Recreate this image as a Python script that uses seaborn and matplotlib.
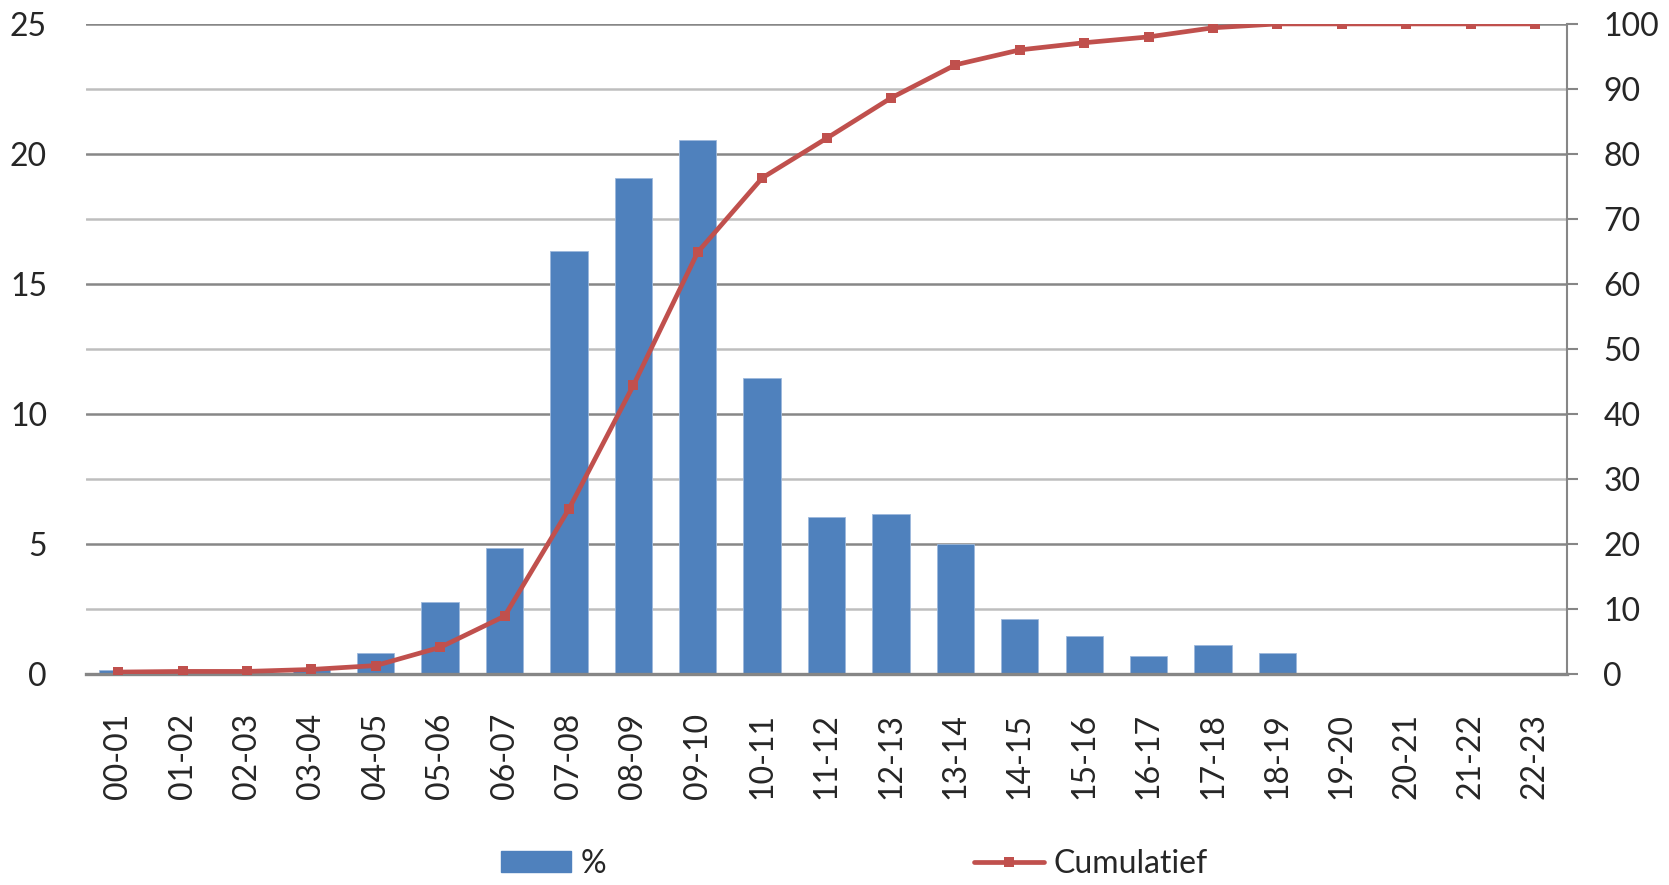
import numpy as np
import pandas as pd
import seaborn as sns
import matplotlib
matplotlib.use('Agg')
import matplotlib.pyplot as plt
from matplotlib.patches import Patch
from matplotlib.lines import Line2D

# hour slots
uren = ['00-01', '01-02', '02-03', '03-04', '04-05', '05-06', '06-07', '07-08',
        '08-09', '09-10', '10-11', '11-12', '12-13', '13-14', '14-15', '15-16',
        '16-17', '17-18', '18-19', '19-20', '20-21', '21-22', '22-23']
# share per hour (%)
procent = [0.15, 0.1, 0.0, 0.2, 0.8, 2.76, 4.85, 16.26, 19.09, 20.52, 11.39, 6.03,
           6.15, 5.0, 2.1, 1.45, 0.69, 1.12, 0.8, 0.0, 0.0, 0.0, 0.0]
# cumulative (%)
cumulatief = [0.3, 0.4, 0.4, 0.7, 1.3, 4.1, 8.9, 25.4, 44.4, 64.9, 76.3, 82.4,
              88.6, 93.7, 96.0, 97.1, 98.0, 99.4, 100, 100, 100, 100, 100]

df = pd.DataFrame({'uur': uren, 'pct': procent, 'cum': cumulatief})

sns.set_style('white')
plt.rcParams['font.family'] = ['Lato', 'DejaVu Sans']

blauw = '#4F81BD'
rood = '#C0504D'
fs = 23

fig = plt.figure(figsize=(16.69, 8.85), dpi=100)
ax = fig.add_axes([0.0515, 0.2384, 0.8875, 0.7346])

sns.barplot(data=df, x='uur', y='pct', color=blauw, saturation=1, width=0.58,
            ax=ax, edgecolor='#9DB9DC', linewidth=0.6)
ax.set_xlim(-0.5, len(uren) - 0.5)
ax.set_ylim(0, 25)
ax.set_yticks(np.arange(0, 26, 5))
ax.set_yticks(np.arange(2.5, 25, 5), minor=True)
ax.grid(True, which='major', axis='y', color='#878787', linewidth=1.8)
ax.grid(True, which='minor', axis='y', color='#BEBEBE', linewidth=1.8)
ax.set_axisbelow(True)
ax.tick_params(axis='y', which='both', length=0, labelsize=fs, pad=28)
ax.tick_params(axis='x', length=0, labelsize=fs, pad=28, labelrotation=90)
ax.set_xlabel('')
ax.set_ylabel('')
for s in ['left', 'top', 'right']:
    ax.spines[s].set_visible(False)
ax.spines['bottom'].set_color('#868686')
ax.spines['bottom'].set_linewidth(2.4)

ax2 = ax.twinx()
sns.lineplot(data=df, x='uur', y='cum', color=rood, linewidth=3.4, marker='s',
             markersize=7.5, markeredgewidth=0, sort=False, ax=ax2)
ax2.set_ylim(0, 100)
ax2.set_yticks(np.arange(0, 101, 10))
ax2.set_xlim(-0.5, len(uren) - 0.5)
ax2.set_ylabel('')
ax2.set_xlabel('')
ax2.tick_params(axis='y', length=8, width=1.5, color='#868686', labelsize=fs, pad=18)
for s in ['left', 'top', 'bottom']:
    ax2.spines[s].set_visible(False)
ax2.spines['right'].set_color('#868686')
ax2.spines['right'].set_linewidth(1.5)

handles = [Patch(facecolor=blauw, edgecolor=blauw),
           Line2D([0], [0], color=rood, linewidth=3.4, marker='s', markersize=7.5,
                  markeredgewidth=0)]
fig.legend(handles, ['%', 'Cumulatief'], loc='center', bbox_to_anchor=(0.512, 0.024),
           ncol=2, frameon=False, fontsize=fs, handlelength=2.2, handleheight=0.6,
           handletextpad=0.3, columnspacing=11.5)

plt.savefig('out.png', dpi=100)
